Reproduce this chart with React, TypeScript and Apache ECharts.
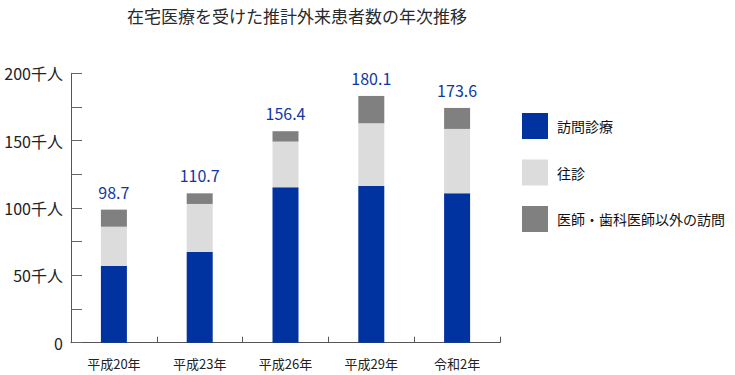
import React, { useEffect, useRef } from "react";
import * as echarts from "echarts";

const categories = ["平成20年", "平成23年", "平成26年", "平成29年", "令和2年"];
const seriesNames = ["訪問診療", "往診", "医師・歯科医師以外の訪問"];
const homeVisits = [57.0, 67.3, 115.4, 116.3, 110.9];
const ohshin = [29.1, 35.7, 33.9, 46.6, 47.8];
const otherVisits = [12.7, 7.9, 7.7, 20.3, 15.6];
const totals = ["98.7", "110.7", "156.4", "180.1", "173.6"];
const titleText = "在宅医療を受けた推計外来患者数の年次推移";

const FONT = "'Noto Sans CJK JP', 'Noto Sans', sans-serif";

export default function App() {
  const ref = useRef<HTMLDivElement>(null);
  useEffect(() => {
    if (!ref.current) return;
    const chart = echarts.init(ref.current, undefined, { renderer: "svg" });
    chart.setOption({
      animation: false,
      backgroundColor: "#ffffff",
      textStyle: { fontFamily: FONT },
      title: {
        text: titleText,
        left: 122,
        top: 2,
        textStyle: { fontSize: 17, fontWeight: "normal", color: "#2a2a2a", fontFamily: FONT },
      },
      legend: {
        orient: "vertical",
        left: 522,
        top: 113,
        padding: 0,
        itemWidth: 26,
        itemHeight: 26,
        itemGap: 20.5,
        icon: "rect",
        data: seriesNames,
        textStyle: { fontSize: 14, color: "#111", fontFamily: FONT, padding: [0, 0, 0, 4] },
      },
      grid: { left: 71, right: 235, top: 73.3, bottom: 32.3, containLabel: false },
      xAxis: {
        type: "category",
        data: categories,
        axisLine: { show: true, lineStyle: { color: "#555", width: 1 } },
        axisTick: { show: true, inside: true, length: 6, lineStyle: { color: "#555" } },
        axisLabel: { fontSize: 13, color: "#222", margin: 14, fontFamily: FONT },
      },
      yAxis: {
        type: "value",
        min: 0,
        max: 200,
        interval: 25,
        splitLine: { show: false },
        axisLine: { show: true, lineStyle: { color: "#555", width: 1 } },
        axisTick: { show: true, inside: true, length: 11, lineStyle: { color: "#666" } },
        axisLabel: {
          fontSize: 16,
          color: "#222",
          margin: 8,
          fontFamily: FONT,
          formatter: (v: number) => (v % 50 !== 0 ? "" : v === 0 ? "0" : v + "千人"),
        },
      },
      series: [
        {
          name: seriesNames[0],
          type: "bar",
          stack: "total",
          barWidth: 26,
          data: homeVisits,
          itemStyle: { color: "#0033a0" },
        },
        {
          name: seriesNames[1],
          type: "bar",
          stack: "total",
          barWidth: 26,
          data: ohshin,
          itemStyle: { color: "#dcdcdc" },
        },
        {
          name: seriesNames[2],
          type: "bar",
          stack: "total",
          barWidth: 26,
          data: otherVisits,
          itemStyle: { color: "#808080" },
          label: {
            show: true,
            position: "top",
            distance: 10,
            fontSize: 16,
            color: "#0f38a0",
            fontFamily: FONT,
            formatter: (p: any) => totals[p.dataIndex],
          },
        },
      ],
    });
    return () => chart.dispose();
  }, []);
  return <div ref={ref} style={{ width: 735, height: 375, position: "absolute", left: 0, top: 0 }} />;
}
